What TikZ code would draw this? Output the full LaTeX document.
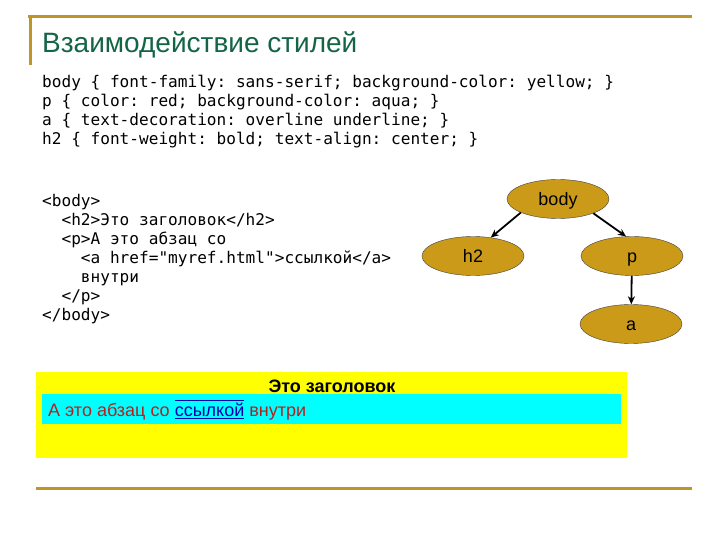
\documentclass[tikz,border=0pt]{standalone}
\usepackage{fontspec}
\setmainfont{Liberation Sans}
\setmonofont{DejaVu Sans Mono}
\usepackage{xcolor}
\usetikzlibrary{shapes.geometric,arrows.meta}

\definecolor{rulegold}{RGB}{190,150,40}
\definecolor{titlegreen}{RGB}{20,100,70}
\definecolor{tagfill}{RGB}{202,154,24}
\definecolor{pageyellow}{RGB}{255,255,0}
\definecolor{paraaqua}{RGB}{0,255,255}
\definecolor{parared}{RGB}{185,30,30}
\definecolor{linkblue}{RGB}{0,0,170}

% over- and underlined link text
\newcommand{\linkline}[1]{\setbox0\hbox{#1}\rlap{\rule[-2.5pt]{\wd0}{0.9pt}}\rlap{\rule[15.5pt]{\wd0}{0.9pt}}\box0}
\newcommand{\ind}{\phantom{xx}}

\begin{document}
\begin{tikzpicture}[x=1pt, y=-1pt,
    tag/.style={ellipse, draw=black!75, fill=tagfill, minimum width=102pt, minimum height=39pt, inner sep=0pt, text height=13pt, text depth=0pt, font=\fontsize{18}{20}\selectfont},
    arrow/.style={-{Stealth[length=8pt,width=7pt]}, line width=1.8pt},
    code/.style={anchor=north west, inner sep=0pt, align=left, font=\ttfamily\fontsize{16.1}{19}\selectfont},
    goldline/.style={draw=rulegold, line width=3pt}
]
    \useasboundingbox (0,0) rectangle (720,540);

    % frame lines
    \draw[goldline] (28,17) -- (692,17);
    \draw[goldline] (30,17) -- (30,65);
    \draw[goldline] (36,488) -- (692,488);

    \node[anchor=base west, inner sep=0pt, text=titlegreen, font=\fontsize{28}{32}\selectfont] (title) at (42,53) {Взаимодействие стилей};

    \node[code] (css) at (42,75) {body \{ font-family: sans-serif; background-color: yellow; \}\\
p \{ color: red; background-color: aqua; \}\\
a \{ text-decoration: overline underline; \}\\
h2 \{ font-weight: bold; text-align: center; \}};

    \node[code] (html) at (42,194) {<body>\\
\ind<h2>Это заголовок</h2>\\
\ind<p>А это абзац со\\
\ind\ind<a href="myref.html">ссылкой</a>\\
\ind\ind внутри\\
\ind</p>\\
</body>};

    % style tree
    \node[tag] (body) at (558,199) {body};
    \node[tag] (h2) at (473,256) {h2};
    \node[tag] (p) at (632,256) {p};
    \node[tag] (a) at (631,324) {a};

    \draw[arrow] (body.200) -- (h2.46);
    \draw[arrow] (body.338) -- (p.107);
    \draw[arrow] (p) -- (a);

    % rendered page
    \node[fill=pageyellow, minimum width=591pt, minimum height=86pt, inner sep=0pt] (page) at (331.5,415) {};
    \node[fill=paraaqua, minimum width=579pt, minimum height=30pt, inner sep=0pt] (para) at (331.5,409) {};
    \node[anchor=base, inner sep=0pt, font=\bfseries\fontsize{18}{20}\selectfont] (head) at (332,392) {Это заголовок};
    \node[anchor=base west, inner sep=0pt, text=parared, font=\fontsize{18}{20}\selectfont] (paratext) at (48,416) {А это абзац со \textcolor{linkblue}{\linkline{ссылкой}} внутри};
\end{tikzpicture}
\end{document}
